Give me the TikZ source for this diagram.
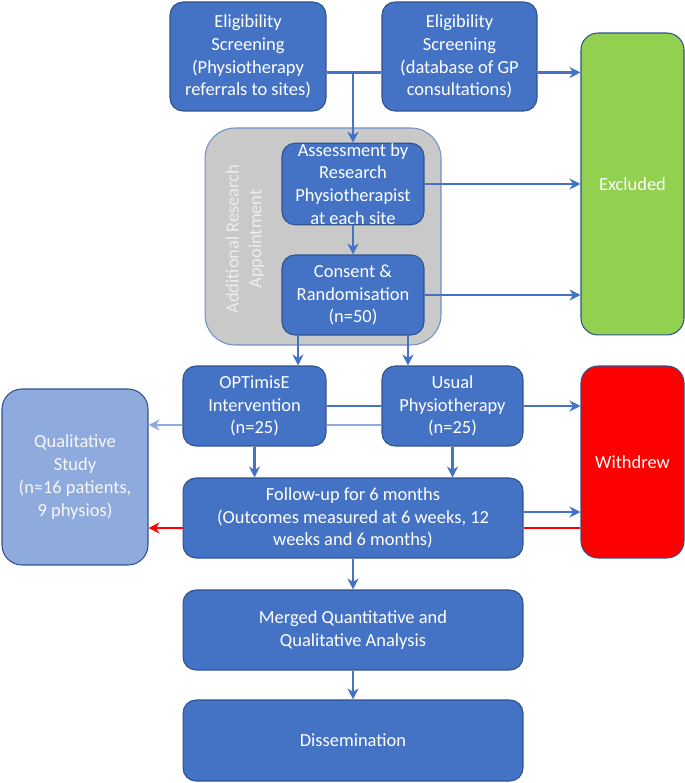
\documentclass[tikz,border=0pt]{standalone}
\usepackage{fontspec}
\setmainfont{Carlito}
\usetikzlibrary{arrows.meta}
\usetikzlibrary{positioning}
\definecolor{boxblue}{HTML}{4472C4}
\definecolor{edgeblue}{HTML}{2F528F}
\definecolor{qualblue}{HTML}{8FAADC}
\definecolor{exclgreen}{HTML}{92D050}
\definecolor{apptgrey}{HTML}{C9C9C9}
\definecolor{apptedge}{HTML}{6F8FC9}
\definecolor{apptlabel}{HTML}{EDEDED}
\tikzset{stage/.style={draw=edgeblue, line width=0.6pt, fill=boxblue, text=white,
    rounded corners=0.26cm, align=center, inner sep=0pt,
    font=\fontsize{10.5}{13}\selectfont}}
\tikzset{link/.style={draw=boxblue, line width=1.3pt}}
\tikzset{arrow/.style={link, -{Stealth[length=2.2mm,width=2.2mm]}}}

\begin{document}
\begin{tikzpicture}[x=0.02cm, y=-0.02cm]
        \useasboundingbox (0,0) rectangle (685,783);

        \node[stage, draw=apptedge, fill=apptgrey, rounded corners=0.6cm,
            minimum width=4.72cm, minimum height=4.34cm] (appt) at (323,236.5) {};
        \node[rotate=90, align=center, text=apptlabel,
            font=\fontsize{10.5}{13}\selectfont] (apptlbl) at (245,239)
            {Additional Research\\Appointment};

        \node[stage, minimum width=3.12cm, minimum height=2.18cm] (elig1) at (248,56.5)
            {Eligibility\\Screening\\(Physiotherapy\\referrals to sites)};
        \node[stage, minimum width=3.1cm, minimum height=2.18cm] (elig2) at (459.5,56.5)
            {Eligibility\\Screening\\(database of GP\\consultations)};
        \node[stage, fill=exclgreen, rounded corners=0.34cm,
            minimum width=2.06cm, minimum height=6.04cm] (excl) at (632.5,184) {Excluded};
        \node[stage, minimum width=2.84cm, minimum height=1.6cm] (assess) at (353,184)
            {Assessment by\\Research\\Physiotherapist\\at each site};
        \node[stage, minimum width=2.84cm, minimum height=1.6cm] (consent) at (353,295)
            {Consent \&\\Randomisation\\(n=50)};
        \node[stage, minimum width=2.86cm, minimum height=1.6cm] (opt) at (254.5,406)
            {OPTimisE\\Intervention\\(n=25)};
        \node[stage, minimum width=2.82cm, minimum height=1.6cm] (usual) at (452.5,406)
            {Usual\\Physiotherapy\\(n=25)};
        \node[stage, fill=qualblue, text=white!97!black, rounded corners=0.4cm,
            minimum width=2.92cm, minimum height=3.52cm] (qual) at (75,477)
            {Qualitative\\Study\\(n≈16 patients,\\9 physios)};
        \node[stage, fill=red, rounded corners=0.34cm,
            minimum width=2.06cm, minimum height=3.84cm] (wd) at (632.5,462) {Withdrew};
        \node[stage, minimum width=6.8cm, minimum height=1.6cm] (fu) at (353,518)
            {Follow-up for 6 months\\(Outcomes measured at 6 weeks, 12\\weeks and 6 months)};
        \node[stage, minimum width=6.8cm, minimum height=1.6cm] (merge) at (353,630)
            {Merged Quantitative and\\Qualitative Analysis};
        \node[stage, minimum width=6.8cm, minimum height=1.62cm] (diss) at (353,740.5)
            {Dissemination};

        \draw[link] ([yshift=-3.2mm]elig1.east) -- ([yshift=-3.2mm]elig2.west);
        \draw[arrow] ([yshift=-3.2mm]elig2.east) -- ([yshift=-3.2mm]elig2.east -| excl.west);
        \draw[arrow] ([yshift=-3.2mm]elig1.east -| assess.north) -- (assess.north);
        \draw[arrow] (assess.east) -- (assess.east -| excl.west);
        \draw[arrow] (assess) -- (consent);
        \draw[arrow] (consent.east) -- (consent.east -| excl.west);
        \draw[arrow] ([xshift=-1.1cm]consent.south) -- ([xshift=-1.1cm]consent.south |- opt.north);
        \draw[arrow] ([xshift=1.1cm]consent.south) -- ([xshift=1.1cm]consent.south |- usual.north);

        \draw[link] (opt.east) -- (usual.west);
        \draw[arrow] (usual.east) -- (usual.east -| wd.west);
        \draw[link, draw=qualblue] ([yshift=-3.8mm]usual.west) -- ([yshift=-3.8mm]opt.east);
        \draw[arrow, draw=qualblue] ([yshift=-3.8mm]opt.west) -- ([yshift=-3.8mm]opt.west -| qual.east);
        \draw[arrow] (opt.south) -- (opt.south |- fu.north);
        \draw[arrow] (usual.south) -- (usual.south |- fu.north);

        \draw[arrow] ([yshift=1.2mm]fu.east) -- ([yshift=1.2mm]fu.east -| wd.west);
        \draw[link, draw=red] ([yshift=-2mm]fu.east -| wd.west) -- ([yshift=-2mm]fu.east);
        \draw[arrow, draw=red] ([yshift=-2mm]fu.west) -- ([yshift=-2mm]fu.west -| qual.east);
        \draw[arrow] (fu) -- (merge);
        \draw[arrow] (merge) -- (diss);
    \end{tikzpicture}
\end{document}
